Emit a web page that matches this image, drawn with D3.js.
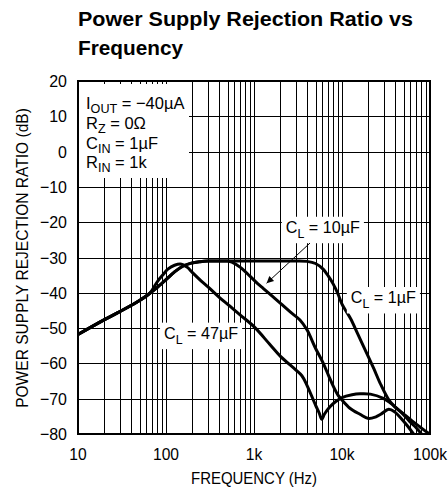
<!DOCTYPE html>
<html>
<head>
<meta charset="utf-8">
<script src="https://cdn.jsdelivr.net/npm/d3@7/dist/d3.min.js"></script>
<style>
  html, body { margin: 0; padding: 0; background: #fff; }
  svg { display: block; }
  text { font-family: "Liberation Sans", Arial, Helvetica, sans-serif; fill: #000; }
</style>
</head>
<body>
<svg id="chart" width="448" height="487"></svg>
<script>
// ---------- data ----------
const titleLines = ["Power Supply Rejection Ratio vs", "Frequency"];
const xTickValues = [10, 100, 1000, 10000, 100000];
const xTickLabels = ["10", "100", "1k", "10k", "100k"];
const yTickValues = [20, 10, 0, -10, -20, -30, -40, -50, -60, -70, -80];
const xAxisTitle = "FREQUENCY (Hz)";
const yAxisTitle = "POWER SUPPLY REJECTION RATIO (dB)";

// C_L = 47µF
const freq47 = [10, 20, 30, 40, 50, 65, 75, 81, 93, 105, 125, 150, 175, 200, 250, 300, 400, 533, 700, 1000, 1500, 2000, 3000, 3500, 4000, 5000, 5500, 5900, 6300, 7300, 8500, 10000, 13000, 16000, 21000, 29500, 35000, 41700, 50000, 59000, 70000, 80000];
const psrr47 = [-51.8, -47.6, -45.3, -43.6, -42.2, -40.2, -37.9, -36.6, -34.8, -33.3, -32.2, -31.9, -32.8, -34.3, -36.6, -38.3, -41.2, -43.8, -46.3, -49.6, -54.5, -58.0, -61.9, -63.5, -66.2, -71.8, -74.0, -75.8, -74.4, -72.3, -70.8, -69.7, -68.9, -68.6, -68.7, -69.9, -71.1, -72.7, -74.5, -76.5, -78.3, -80.0];

// C_L = 10µF
const freq10 = [10, 20, 30, 40, 50, 65, 81, 100, 126, 157, 194, 243, 300, 400, 500, 560, 700, 900, 1100, 1280, 1600, 2000, 2600, 3330, 4000, 5000, 6000, 7000, 8000, 9000, 10000, 12300, 16000, 20000, 24000, 28000, 34000, 40000, 46000, 55000, 65000];
const psrr10 = [-51.8, -47.6, -45.3, -43.6, -42.2, -40.2, -38.3, -36.3, -34.0, -32.4, -31.6, -31.2, -31.0, -31.0, -31.0, -31.3, -32.8, -35.3, -37.4, -38.8, -40.9, -43.0, -45.5, -47.7, -50.5, -55.7, -59.5, -63.3, -66.6, -69.0, -70.4, -72.7, -74.4, -75.6, -75.2, -74.3, -73.0, -73.8, -75.3, -77.6, -80.0];

// C_L = 1µF
const freq1 = [10, 20, 30, 40, 50, 65, 81, 100, 126, 157, 194, 243, 300, 500, 1000, 2000, 3000, 4000, 5000, 6100, 7000, 7900, 9000, 10000, 12500, 15000, 19000, 23000, 27000, 34000, 40000, 50000, 62000, 77000, 90000, 100000];
const psrr1 = [-51.8, -47.6, -45.3, -43.6, -42.2, -40.2, -38.3, -36.3, -34.0, -32.4, -31.6, -31.2, -31.0, -31.0, -31.0, -31.0, -31.0, -31.1, -31.7, -33.3, -35.3, -37.4, -40.3, -43.2, -47.3, -51.5, -57.0, -61.5, -65.5, -70.3, -72.3, -74.3, -76.2, -78.0, -79.3, -80.0];

const seriesSubs = ["L", "L", "L"];
const seriesRest = [" = 47µF", " = 10µF", " = 1µF"];
// label anchors in data space [freq, dB]
const labelAnchors = [[95, -53.1], [2300, -23.1], [12600, -43.0]];
const arrowFrom = [4330, -25.9];
const arrowTo = [1390, -37.3];
const conditionLines = [["I", "OUT", " = −40µA"], ["R", "Z", " = 0Ω"], ["C", "IN", " = 1µF"], ["R", "IN", " = 1k"]];

// ---------- layout ----------
const svg = d3.select("#chart");
const x = d3.scaleLog().domain([10, 100000]).range([78, 430]);
const y = d3.scaleLinear().domain([-80, 20]).range([434, 81]);

// horizontally condensed text helper
function ctext(parent, px, py, size, sx) {
  return parent.append("text")
    .attr("transform", `translate(${px},${py}) scale(${sx},1)`)
    .attr("font-size", size);
}

// title
svg.append("text").attr("x", 78).attr("y", 26).attr("font-size", 20).attr("font-weight", "bold")
  .attr("textLength", 335).attr("lengthAdjust", "spacingAndGlyphs").text(titleLines[0]);
svg.append("text").attr("x", 78).attr("y", 55).attr("font-size", 20).attr("font-weight", "bold")
  .attr("textLength", 105).attr("lengthAdjust", "spacingAndGlyphs").text(titleLines[1]);

// grid
const grid = svg.append("g").attr("shape-rendering", "crispEdges");
const vLines = [];
for (let d = 10; d < 100000; d *= 10) for (let m = 1; m < 10; m++) vLines.push(d * m);
vLines.push(100000);
grid.selectAll("line.v").data(vLines).join("line")
  .attr("x1", d => Math.round(x(d)) + 0.5).attr("x2", d => Math.round(x(d)) + 0.5)
  .attr("y1", y(20)).attr("y2", y(-80)).attr("stroke", "#000").attr("stroke-width", 1);
grid.selectAll("line.h").data(yTickValues).join("line")
  .attr("y1", d => Math.round(y(d)) + 0.5).attr("y2", d => Math.round(y(d)) + 0.5)
  .attr("x1", x(10)).attr("x2", x(100000)).attr("stroke", "#000").attr("stroke-width", 1);

// conditions box (white, covers grid)
const condG = svg.append("g");
condG.append("rect").attr("fill", "#fff")
  .attr("x", x(10) + 1).attr("y", 84).attr("width", 189 - x(10) - 1).attr("height", 178 - 84);
conditionLines.forEach((parts, i) => {
  const t = ctext(condG, 86, 109 + i * 19.8, 17, 0.97);
  t.append("tspan").text(parts[0]);
  t.append("tspan").attr("font-size", 13).attr("dy", 4).text(parts[1]);
  t.append("tspan").attr("dy", -4).text(parts[2]);
});

// curves
svg.append("clipPath").attr("id", "plotclip").append("rect")
  .attr("x", x(10)).attr("y", y(20)).attr("width", x(100000) - x(10)).attr("height", y(-80) - y(20));
const line = d3.line().x(d => x(d[0])).y(d => y(d[1])).curve(d3.curveCatmullRom.alpha(0.5));
const series = [d3.zip(freq47, psrr47), d3.zip(freq10, psrr10), d3.zip(freq1, psrr1)];
svg.append("g").attr("clip-path", "url(#plotclip)").selectAll("path").data(series).join("path")
  .attr("d", line).attr("fill", "none").attr("stroke", "#000").attr("stroke-width", 3)
  .attr("stroke-linejoin", "round").attr("stroke-linecap", "round");

// frame
svg.append("rect").attr("x", x(10)).attr("y", y(20)).attr("width", x(100000) - x(10)).attr("height", y(-80) - y(20))
  .attr("fill", "none").attr("stroke", "#000").attr("stroke-width", 2);

// series labels with white boxes
labelAnchors.forEach((a, i) => {
  const g = svg.append("g");
  const r = g.append("rect").attr("fill", "#fff");
  const t = ctext(g, x(a[0]), y(a[1]), 17, 0.95);
  t.append("tspan").text("C");
  t.append("tspan").attr("font-size", 13).attr("dy", 5).text(seriesSubs[i]);
  t.append("tspan").attr("dy", -5).text(seriesRest[i]);
  const b = t.node().getBBox();
  const sx = 0.95;
  r.attr("x", x(a[0]) + b.x * sx - 4).attr("y", y(a[1]) + b.y - 1)
   .attr("width", b.width * sx + 8).attr("height", b.height + 3);
});

// arrow
const defs = svg.append("defs");
defs.append("marker").attr("id", "ah").attr("viewBox", "0 0 10 10").attr("refX", 10).attr("refY", 5)
  .attr("markerWidth", 12).attr("markerHeight", 7).attr("markerUnits", "userSpaceOnUse").attr("orient", "auto")
  .append("path").attr("d", "M0,0 L10,5 L0,10 z").attr("fill", "#000");
svg.append("line").attr("x1", x(arrowFrom[0])).attr("y1", y(arrowFrom[1]))
  .attr("x2", x(arrowTo[0])).attr("y2", y(arrowTo[1])).attr("stroke", "#000").attr("stroke-width", 1)
  .attr("marker-end", "url(#ah)");

// tick labels (positioned by the scales)
const fmtY = d => d < 0 ? "−" + Math.abs(d) : String(d);
const yT = svg.append("g");
yTickValues.forEach(v => {
  ctext(yT, 67, y(v) + 6, 17, 0.94).attr("text-anchor", "end").text(fmtY(v));
});
const xT = svg.append("g");
xTickValues.forEach((v, i) => {
  ctext(xT, x(v), 460, 17, 0.92).attr("text-anchor", "middle").text(xTickLabels[i]);
});

// axis titles
ctext(svg, 254, 484, 17, 0.88).attr("text-anchor", "middle").text(xAxisTitle);
svg.append("text").attr("transform", "translate(28,258) rotate(-90) scale(0.915,1)").attr("text-anchor", "middle")
  .attr("font-size", 17).text(yAxisTitle);
</script>
</body>
</html>
